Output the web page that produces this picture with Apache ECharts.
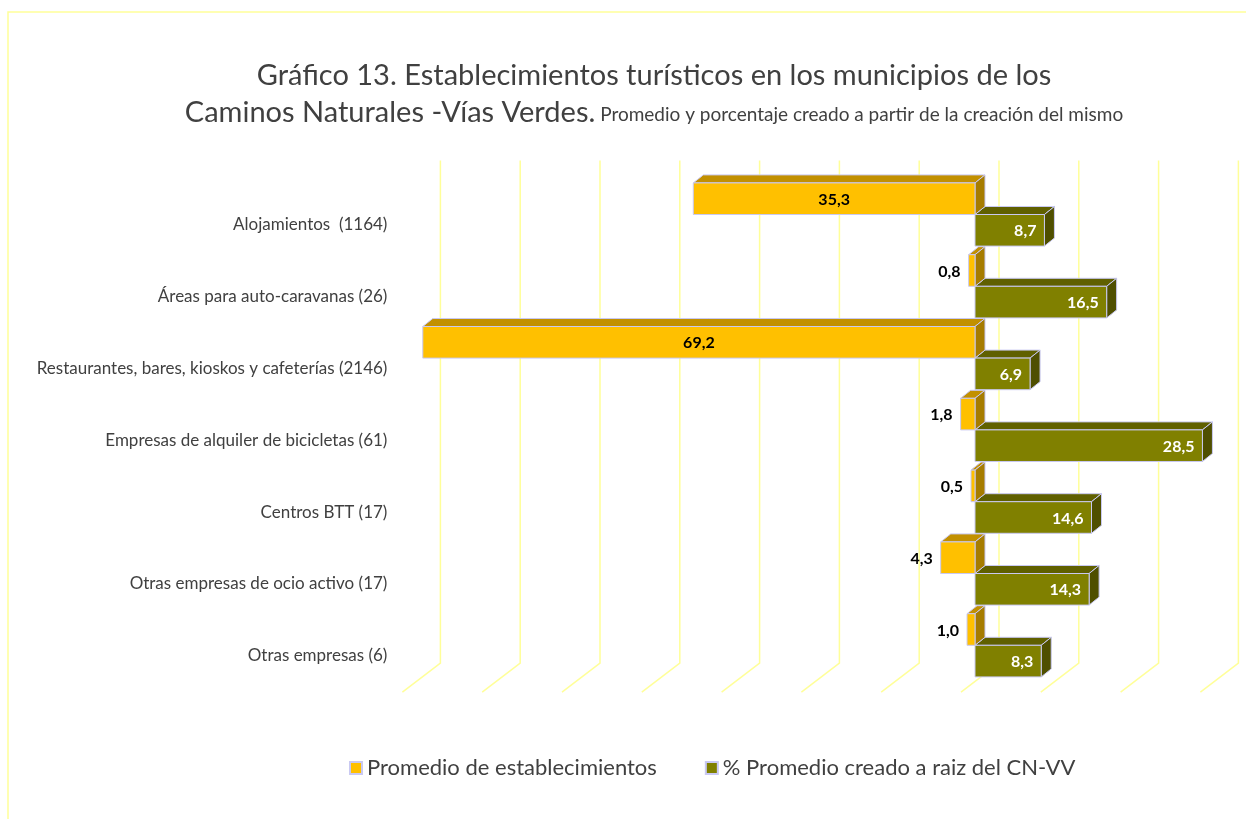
<!DOCTYPE html>
<html>
<head>
<meta charset="utf-8">
<script src="https://cdn.jsdelivr.net/npm/echarts@6/dist/echarts.min.js"></script>
<style>
  html, body { margin: 0; padding: 0; background: #fff; }
  #chart { width: 1246px; height: 819px; }
</style>
</head>
<body>
<div id="chart"></div>
<script>
// categorias (de arriba a abajo)
var categories = [
    'Alojamientos  (1164)',
    'Áreas para auto-caravanas (26)',
    'Restaurantes, bares, kioskos y cafeterías (2146)',
    'Empresas de alquiler de bicicletas (61)',
    'Centros BTT (17)',
    'Otras empresas de ocio activo (17)',
    'Otras empresas (6)'
];
// Promedio de establecimientos (se dibuja hacia la izquierda)
var promedio = [35.3, 0.8, 69.2, 1.8, 0.5, 4.3, 1.0];
// % Promedio creado a raiz del CN-VV
var creado = [8.7, 16.5, 6.9, 28.5, 14.6, 14.3, 8.3];
// lineas de division del eje de valores
var gridTicks = [-70, -60, -50, -40, -30, -20, -10, 0, 10, 20, 30];

var FONT = 'Lato, "Open Sans", sans-serif';
var DX = 10, DY = -8; // profundidad de las barras

function fmt(v) {
    return Math.abs(v).toFixed(1).replace('.', ',');
}

// caja 3D para cada barra
function boxItem(params, api, colors, upper) {
    var v = api.value(0), c = api.value(1);
    var p0 = api.coord([0, c]);
    var p1 = api.coord([v, c]);
    var band = api.size([0, 1])[1];
    var h = band * 0.44;
    var y0 = upper ? p0[1] - h : p0[1];
    var xl = Math.min(p0[0], p1[0]), xr = Math.max(p0[0], p1[0]);
    var w = xr - xl;
    var line = { stroke: '#c9c9f2', lineWidth: 1 };
    var children = [
        {
            type: 'polygon',
            shape: { points: [[xl, y0], [xl + DX, y0 + DY], [xr + DX, y0 + DY], [xr, y0]] },
            style: Object.assign({ fill: colors.top }, line)
        },
        {
            type: 'polygon',
            shape: { points: [[xr, y0], [xr + DX, y0 + DY], [xr + DX, y0 + h + DY], [xr, y0 + h]] },
            style: Object.assign({ fill: colors.side }, line)
        },
        {
            type: 'rect',
            shape: { x: xl, y: y0, width: w, height: h },
            style: Object.assign({ fill: colors.front }, line)
        }
    ];
    var lbl;
    if (upper) {
        if (w > 60) {
            lbl = { x: xl + w / 2, y: y0 + h / 2, align: 'center', fill: '#000' };
        } else {
            lbl = { x: xl - 8, y: y0 + h / 2, align: 'right', fill: '#000' };
        }
    } else {
        lbl = { x: xr - 8, y: y0 + h / 2, align: 'right', fill: '#fff' };
    }
    children.push({
        type: 'text',
        style: {
            x: lbl.x, y: lbl.y + 1, text: fmt(v), align: lbl.align, verticalAlign: 'middle',
            fill: lbl.fill, font: 'bold 16px ' + FONT
        }
    });
    return { type: 'group', children: children };
}

var chart = echarts.init(document.getElementById('chart'));

chart.setOption({
    backgroundColor: '#fff',
    animation: false,
    title: {
        left: 649,
        top: 52,
        textAlign: 'center',
        text: '{a|Gráfico 13. Establecimientos turísticos en los municipios de los}\n' +
              '{a|Caminos Naturales -Vías Verdes.}{b| Promedio y porcentaje creado a partir de la creación del mismo}',
        textStyle: {
            fontWeight: 'normal',
            rich: {
                a: { fontFamily: FONT, fontWeight: 'normal', fontSize: 29, color: '#404040', lineHeight: 37 },
                b: { fontFamily: FONT, fontWeight: 'normal', fontSize: 19, color: '#404040', lineHeight: 37, padding: [5, 0, 0, 0] }
            }
        }
    },
    legend: {
        left: 344,
        top: 752,
        icon: 'rect',
        itemWidth: 12,
        itemHeight: 12,
        itemGap: 48,
        textStyle: { fontFamily: FONT, fontSize: 22, color: '#404040' },
        data: ['Promedio de establecimientos', '% Promedio creado a raiz del CN-VV']
    },
    graphic: [{
        type: 'polyline',
        shape: { points: [[8, 819], [8, 12], [1246, 12]] },
        style: { stroke: '#ffff99', lineWidth: 1.5, fill: null }
    }],
    grid: {
        left: 416.4,
        right: 31.6,
        top: 178.6,
        bottom: 137.8
    },
    xAxis: {
        type: 'value',
        min: -70,
        max: 30,
        interval: 10,
        axisLine: { show: false },
        axisTick: { show: false },
        axisLabel: { show: false },
        splitLine: { show: false }
    },
    yAxis: {
        type: 'category',
        inverse: true,
        data: categories,
        axisLine: { show: false },
        axisTick: { show: false },
        axisLabel: {
            margin: 29,
            fontFamily: FONT,
            fontSize: 17,
            color: '#404040',
            verticalAlign: 'top',
            lineHeight: 21
        }
    },
    series: [
        {
            name: 'grid3d',
            type: 'custom',
            silent: true,
            z: 1,
            data: gridTicks.map(function (t) { return [t, 0]; }),
            renderItem: function (params, api) {
                var cs = params.coordSys;
                var x = api.coord([api.value(0), 0])[0];
                var top = cs.y, bot = cs.y + cs.height;
                return {
                    type: 'polyline',
                    shape: { points: [[x + 24, top - 18], [x + 24, bot - 18], [x - 14, bot + 11]] },
                    style: { stroke: '#ffff99', lineWidth: 1.5, fill: null }
                };
            }
        },
        {
            name: 'Promedio de establecimientos',
            type: 'custom',
            z: 3,
            itemStyle: { color: '#ffc000', borderColor: '#c9c9f2', borderWidth: 1 },
            data: promedio.map(function (v, i) { return [-v, i]; }),
            renderItem: function (params, api) {
                return boxItem(params, api, { front: '#ffc000', top: '#c29000', side: '#a67c00' }, true);
            }
        },
        {
            name: '% Promedio creado a raiz del CN-VV',
            type: 'custom',
            z: 2,
            itemStyle: { color: '#808000', borderColor: '#c9c9f2', borderWidth: 1 },
            data: creado.map(function (v, i) { return [v, i]; }),
            renderItem: function (params, api) {
                return boxItem(params, api, { front: '#808000', top: '#606000', side: '#4f4f00' }, false);
            }
        }
    ]
});
</script>
</body>
</html>
